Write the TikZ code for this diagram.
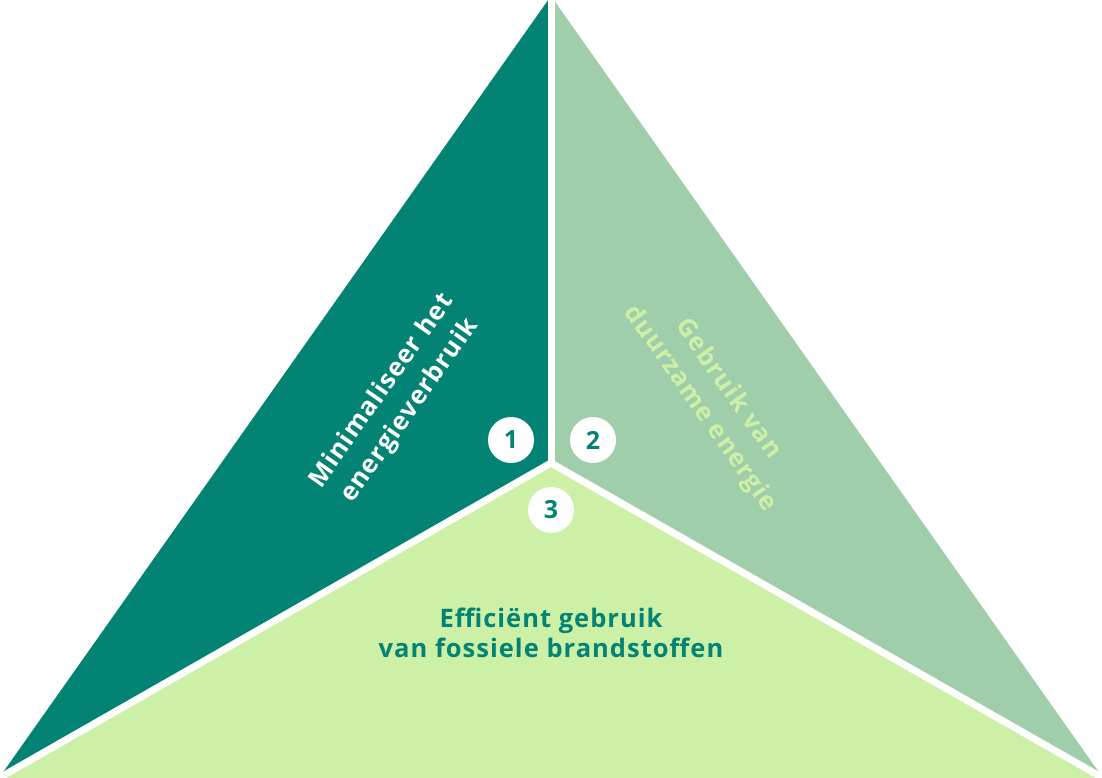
\documentclass[tikz,border=0pt]{standalone}
\usepackage{fontspec}
\setmainfont{Open Sans}[LetterSpace=4]
\definecolor{teal1}{HTML}{038374}
\definecolor{sage}{HTML}{A0CDAA}
\definecolor{lime}{HTML}{CCF0A6}
\tikzset{
  lbl/.style={align=center, font=\bfseries\fontsize{25.5}{34}\selectfont, inner sep=0},
  numdot/.style={circle, fill=white, minimum size=46pt, inner sep=0, text=teal1, font=\bfseries\fontsize{25}{30}\selectfont},
  gap/.style={draw=white, line width=7pt, line cap=round}
}
\begin{document}
\begin{tikzpicture}[x=1pt,y=-1pt]
\useasboundingbox (0,0) rectangle (1102,778);
\clip (0,0) rectangle (1102,778);
\coordinate (apex) at (551,-4);
\coordinate (ctr) at (551,463);
\coordinate (bl) at (-1,778);
\coordinate (br) at (1103,778);
\fill[teal1] (apex) -- (ctr) -- (bl) -- cycle;
\fill[sage] (apex) -- (ctr) -- (br) -- cycle;
\fill[lime] (ctr) -- (bl) -- (br) -- cycle;
\draw[gap] (apex) -- (ctr);
\draw[gap] (ctr) -- (bl);
\draw[gap] (ctr) -- (br);
\node[lbl, text=white, rotate=54.8] (t1) at (396,401) {Minimaliseer het\\energieverbruik};
\node[lbl, text=lime, rotate=-54.8] (t2) at (714,399) {Gebruik van\\duurzame energie};
\node[lbl, text=teal1, font=\bfseries\fontsize{25.5}{30}\selectfont] (t3) at (551,633) {Efficiënt gebruik\\van fossiele brandstoffen};
\node[numdot] (n1) at (511,440) {1};
\node[numdot] (n2) at (593,440) {2};
\node[numdot] (n3) at (551,510) {3};
\end{tikzpicture}
\end{document}
